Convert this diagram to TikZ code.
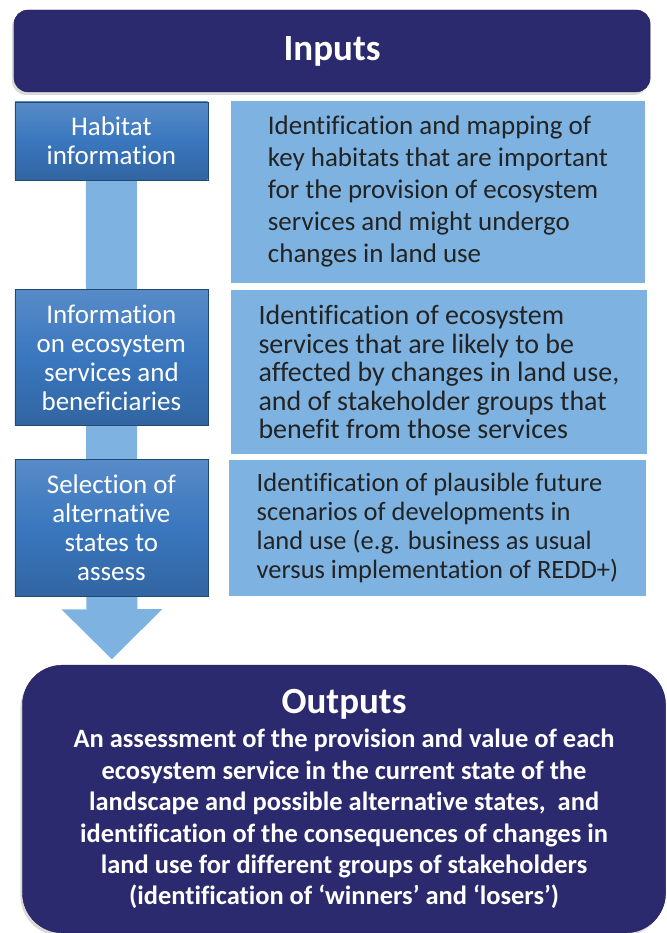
\documentclass[tikz,border=0pt]{standalone}
\usepackage{fontspec}
\setmainfont{Carlito}[Ligatures=CommonOff]
\usepackage{tikz}
\usetikzlibrary{arrows.meta,shadows,backgrounds}
\definecolor{navy}{RGB}{44,42,110}
\definecolor{midblue}{RGB}{58,119,190}
\definecolor{paleblue}{RGB}{126,179,225}
\definecolor{darktext}{RGB}{35,35,35}
\tikzset{
	headbox/.style={rounded corners=14pt, fill=navy, draw=navy!70!black, text=white,
		drop shadow={shadow xshift=-2pt, shadow yshift=-3pt, opacity=0.3}},
	stepbox/.style={top color=midblue!85!white, bottom color=midblue!85!black, middle color=midblue,
		draw=midblue!60!black, text=white, minimum width=193pt, align=center,
		font=\fontsize{27}{29}\selectfont},
	descbox/.style={fill=paleblue, text=darktext, align=left, inner sep=0pt,
		font=\fontsize{27}{32}\selectfont},
	flowbar/.style={paleblue, line width=51pt,
		-{Triangle[width=101pt, length=50pt, line width=0pt]}}
}
\begin{document}
\begin{tikzpicture}[x=1pt, y=-1pt]
			{\useasboundingbox (0,0) rectangle (667,933);}
			{\node[headbox, minimum width=637pt, minimum height=82pt, font=\fontsize{37}{40}\selectfont\bfseries] (inputs) at (332.5,51) {Inputs};}
			{\node[stepbox, minimum height=78pt] (habitat) at (111.5,141) {Habitat\\information};}
			{\node[stepbox, minimum height=136pt] (services) at (111.5,358) {Information\\on ecosystem\\services and\\beneficiaries};}
			{\node[stepbox, minimum height=137pt] (states) at (111.5,528.5) {Selection of\\alternative\\states to\\assess};}
			{\node[descbox, minimum width=415pt, minimum height=182pt] (habitatdesc) at (438.5,192) {Identification and mapping of\\key habitats that are important\\for the provision of ecosystem\\services and might undergo\\changes in land use};}
			{\node[descbox, minimum width=417pt, minimum height=165pt, font=\fontsize{28}{28.5}\selectfont] (servicesdesc) at (439.5,372.5) {Identification of ecosystem\\services that are likely to be\\affected by changes in land use,\\and of stakeholder groups that\\benefit from those services};}
			{\node[descbox, minimum width=418pt, minimum height=136pt, font=\fontsize{26.5}{29}\selectfont] (statesdesc) at (438,529) {Identification of plausible future\\scenarios of developments in\\land use (e.g. business as usual\\versus implementation of REDD+)};}
			{\node[headbox, rounded corners=40pt, minimum width=644pt, minimum height=268pt, align=center, font=\fontsize{26.5}{31.5}\selectfont\bfseries] (outputs) at (344.5,800) {{\fontsize{37}{40}\selectfont Outputs}\\[3pt]An assessment of the provision and value of each\\ecosystem service in the current state of the\\landscape and possible alternative states,\ \ and\\identification of the consequences of changes in\\land use for different groups of stakeholders\\(identification of ‘winners’ and ‘losers’)};}
			{\coordinate (tip) at (112,660);}
			\begin{scope}[on background layer]
			{\draw[flowbar] (habitat.south) -- (tip);}
			\end{scope}
		\end{tikzpicture}
\end{document}
